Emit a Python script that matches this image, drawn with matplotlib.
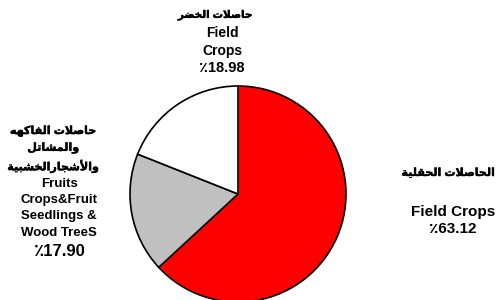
import matplotlib
matplotlib.use("Agg")
import matplotlib.pyplot as plt
import matplotlib.patheffects as pe

# data
shares = [63.12, 17.90, 18.98]
colors = ["#FF0000", "#C0C0C0", "#FFFFFF"]
ar_names = [["الحاصلات الحقلية"],
            ["حاصلات الفاكهه", "والمشاتل", "والأشجارالخشبية"],
            ["حاصلات الخضر"]]
en_names = [["Field Crops"],
            ["Fruits", "Crops&Fruit", "Seedlings &", "Wood TreeS"],
            ["Field", "Crops"]]

# --- tiny arabic shaper (matplotlib has no text shaping) ---
DUAL = {"ب": 0xFE8F, "ت": 0xFE95, "ج": 0xFE9D, "ح": 0xFEA1, "خ": 0xFEA5,
        "ش": 0xFEB5, "ص": 0xFEB9, "ض": 0xFEBD, "ف": 0xFED1, "ق": 0xFED5,
        "ك": 0xFED9, "ل": 0xFEDD, "م": 0xFEE1, "ه": 0xFEE9, "ي": 0xFEF1}
RIGHT = {"ا": 0xFE8D, "أ": 0xFE83, "ة": 0xFE93, "ر": 0xFEAD, "و": 0xFEED,
         "\uFEFB": 0xFEFB, "\uFEF7": 0xFEF7}


def shape(s):
    s = s.replace("لا", "\uFEFB").replace("لأ", "\uFEF7")
    out = []
    for i, c in enumerate(s):
        if c in DUAL:
            base = DUAL[c]
        elif c in RIGHT:
            base = RIGHT[c]
        else:
            out.append(c)
            continue
        prev = s[i - 1] if i > 0 else ""
        nxt = s[i + 1] if i + 1 < len(s) else ""
        jp = prev in DUAL
        jn = c in DUAL and (nxt in DUAL or nxt in RIGHT)
        off = 3 if (jp and jn) else 2 if jn else 1 if jp else 0
        out.append(chr(base + off))
    return "".join(out)[::-1]


fam = ["Liberation Sans", "DejaVu Sans"]
W, H = 498, 300
fig = plt.figure(figsize=(W / 100, H / 100), dpi=100)

# pie: center (238,194) px from top, radius 108 px
r = 108
ax = fig.add_axes([(238 - r) / W, (H - 194 - r) / H, 2 * r / W, 2 * r / H])
ax.pie(shares, colors=colors, startangle=90, counterclock=False,
       wedgeprops=dict(edgecolor="black", linewidth=1.2))
ax.set_xlim(-1, 1)
ax.set_ylim(-1, 1)
ax.axis("off")


def put(x, y, txt, size, arabic=False):
    t = fig.text(x / W, 1 - y / H, shape(txt) if arabic else txt,
                 ha="center", va="center", fontsize=size,
                 fontweight="bold", family=fam)
    if arabic:
        t.set_path_effects([pe.withStroke(linewidth=0.3, foreground="black")])


def pct(v):
    return "٪" + f"{v:.2f}"


# top label (vegetables)
put(215, 15, ar_names[2][0], 7.5, True)
put(222, 33, en_names[2][0], 10)
put(222, 51, en_names[2][1], 10)
put(222, 68, pct(shares[2]), 10.5)

# left label (fruits)
for txt, y in zip(ar_names[1], [131, 148, 166]):
    put(53, y, txt, 8, True)
for txt, y in zip(en_names[1], [184, 200, 216, 233]):
    put(59, y, txt, 9.5)
put(60, 251, pct(shares[1]), 12)

# right label (field crops)
put(448, 173, ar_names[0][0], 8, True)
put(453, 212, en_names[0][0], 11)
put(453, 229, pct(shares[0]), 11)

fig.savefig("out.png", dpi=100)
